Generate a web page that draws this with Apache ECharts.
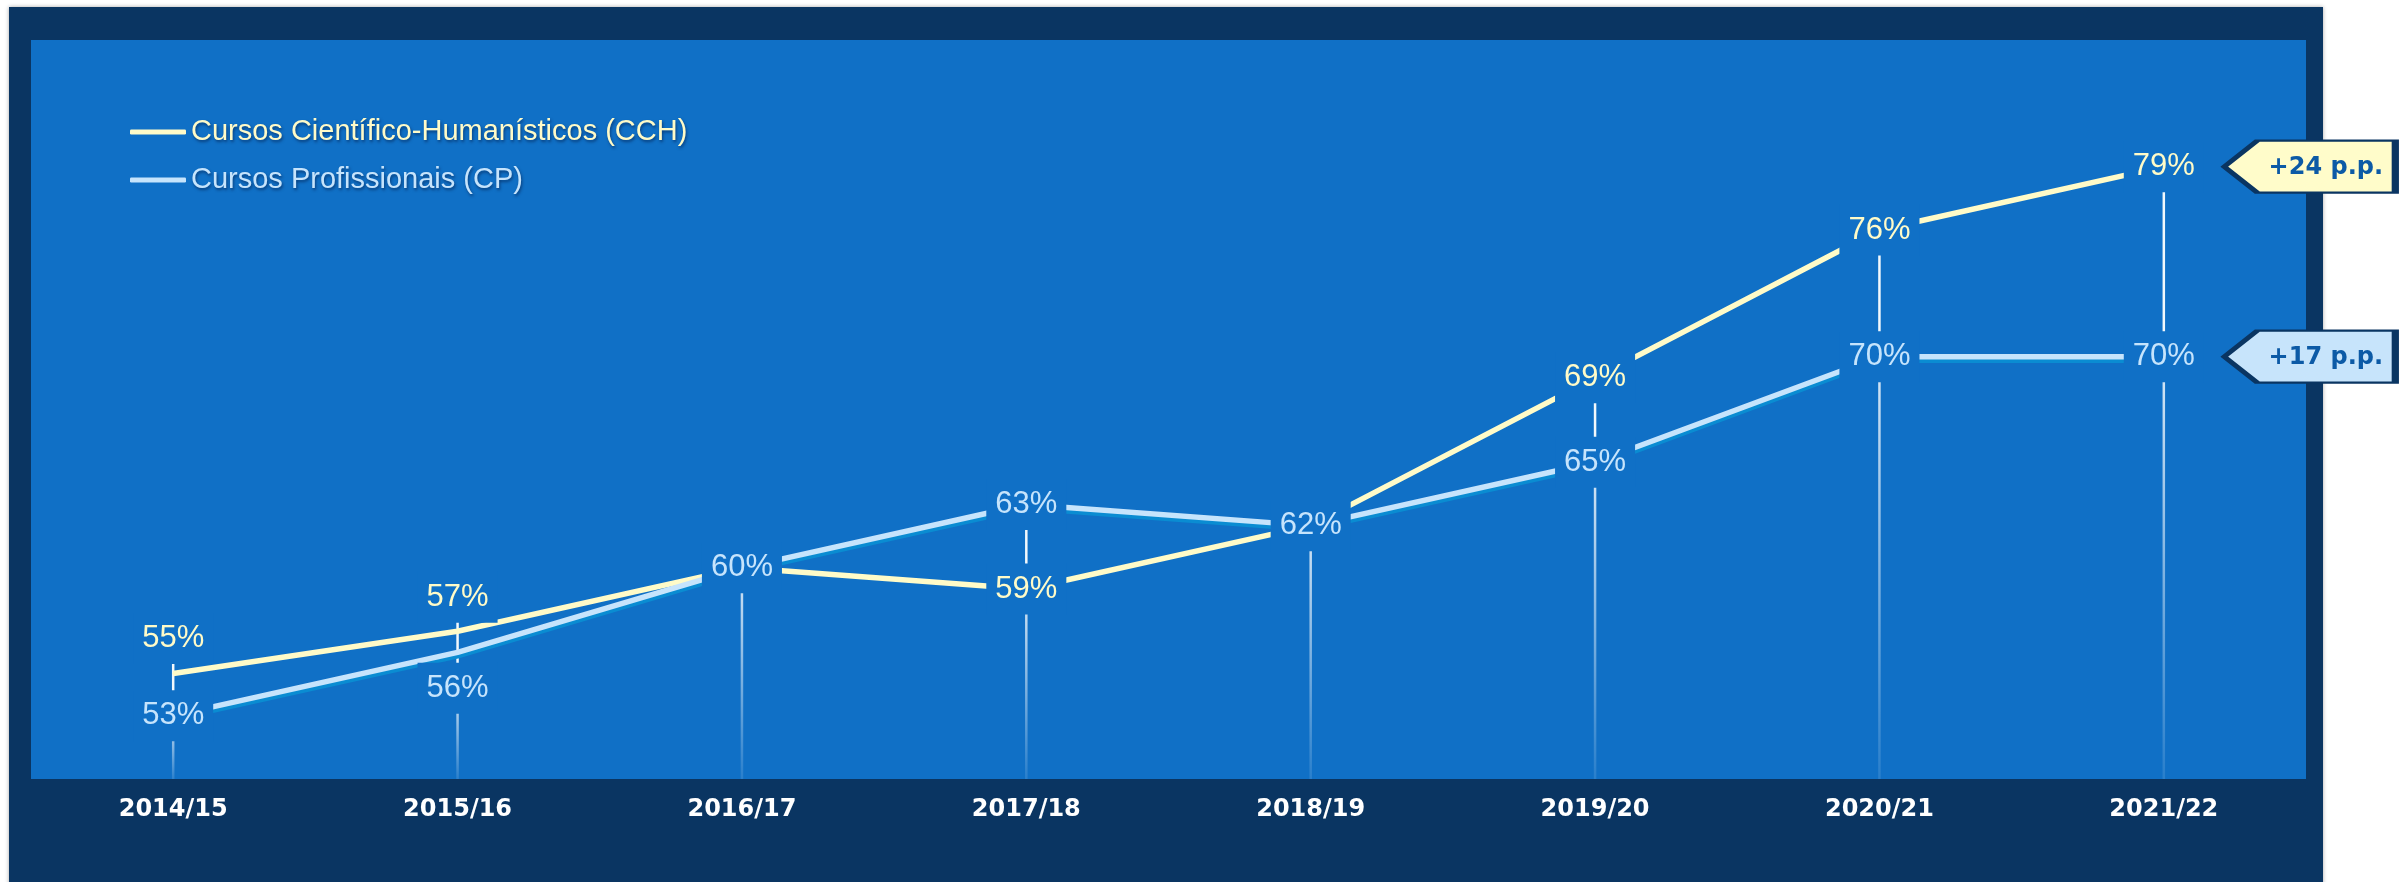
<!DOCTYPE html>
<html>
<head>
<meta charset="utf-8">
<script src="https://cdn.jsdelivr.net/npm/echarts@6/dist/echarts.min.js"></script>
<style>
  html, body { margin: 0; padding: 0; background: #ffffff; }
  #chart { width: 2400px; height: 882px; }
</style>
</head>
<body>
<div id="chart"></div>
<script>
// ---- data ----
const categories = ['2014/15', '2015/16', '2016/17', '2017/18', '2018/19', '2019/20', '2020/21', '2021/22'];
const cchName = 'Cursos Científico-Humanísticos (CCH)';
const cpName = 'Cursos Profissionais (CP)';
const cchValues = [55, 57, 60, 59, 62, 69, 76, 79];
const cpValues = [53, 56, 60, 63, 62, 65, 70, 70];

// ---- style ----
const COL_PANEL = '#1070c6';
const COL_DARK = '#0a3562';
const COL_CCH = '#fffbc8';
const COL_CP = '#c6e4fc';
const COL_CP_SHADOW = '#0a8cd2';
const LABEL_FONT = 'Liberation Sans, Arial, sans-serif';

// label vertical shifts (pixels) where the two labels would collide
const cchLabelDy = categories.map((c, i) => (i === 0 ? -35 : i === 1 ? -34 : 0));
const cpLabelDy = categories.map((c, i) => (i === 1 ? 36 : 0));

function labelItems(values, dys, showFn) {
  return values.map((v, i) => ({
    value: v,
    label: { show: showFn(i), offset: [0, dys[i]] }
  }));
}

const baseLabel = {
  show: true,
  position: 'inside',
  formatter: '{c}%',
  fontFamily: LABEL_FONT,
  fontSize: 31,
  backgroundColor: COL_PANEL,
  padding: [10, 9]
};

const first = 0, last = categories.length - 1;

const tagSymbol = 'path://M0,26 L33,0 L171,0 L171,52 L33,52 Z';
const tagLabel = {
  show: true, position: 'inside', offset: [16, 1],
  formatter: p => '+' + p.value + ' p.p.',
  color: '#0c5aa6', fontFamily: 'DejaVu Sans, sans-serif',
  fontWeight: 'bold', fontSize: 24
};

const chart = echarts.init(document.getElementById('chart'), null, { renderer: 'canvas' });

const option = {
  animation: false,
  backgroundColor: '#ffffff',
  graphic: [
    {
      type: 'rect', z: -10, silent: true,
      shape: { x: 9, y: 7, width: 2314, height: 880 },
      style: { fill: COL_DARK, shadowBlur: 4, shadowColor: 'rgba(0,0,0,0.35)' }
    }
  ],
  grid: {
    left: 31, right: 94, top: 40, bottom: 103,
    show: true, backgroundColor: COL_PANEL, borderWidth: 0
  },
  legend: {
    orient: 'vertical',
    left: 125, top: 110,
    itemWidth: 56, itemHeight: 5,
    itemGap: 14,
    icon: 'roundRect',
    data: [
      { name: cchName, textStyle: { color: COL_CCH } },
      { name: cpName, textStyle: { color: COL_CP } }
    ],
    textStyle: {
      fontFamily: LABEL_FONT, fontSize: 29, lineHeight: 34,
      textShadowColor: 'rgba(0,20,60,0.55)', textShadowBlur: 3,
      textShadowOffsetX: 1, textShadowOffsetY: 2
    }
  },
  xAxis: {
    type: 'category',
    data: categories,
    axisLine: { show: false },
    axisTick: { show: false },
    splitLine: { show: false },
    axisLabel: {
      color: '#ffffff',
      fontFamily: 'DejaVu Sans, sans-serif',
      fontWeight: 'bold',
      fontSize: 24,
      margin: 19
    }
  },
  yAxis: {
    type: 'value', min: 50, max: 85, show: false,
    splitLine: { show: false }
  },
  series: [
    {
      type: 'custom',
      name: 'drop',
      z: 1,
      silent: true,
      encode: { x: 0, y: [1, 2] },
      data: categories.map((c, i) => [i, Math.max(cchValues[i], cpValues[i]), Math.min(cchValues[i], cpValues[i])]),
      renderItem: function (params, api) {
        const i = api.value(0);
        const hi = api.value(1), lo = api.value(2);
        const pHi = api.coord([i, hi]);
        const pLo = api.coord([i, lo]);
        let hiDy, loDy;
        if (cchValues[i] > cpValues[i]) { hiDy = cchLabelDy[i]; loDy = cpLabelDy[i]; }
        else if (cchValues[i] < cpValues[i]) { hiDy = cpLabelDy[i]; loDy = cchLabelDy[i]; }
        else { hiDy = cpLabelDy[i]; loDy = cpLabelDy[i]; }
        const x = pHi[0];
        const yTop = pHi[1] + hiDy;
        const yMid = pLo[1] + loDy;
        const yBot = params.coordSys.y + params.coordSys.height;
        return {
          type: 'group',
          children: [
            {
              type: 'line',
              shape: { x1: x, y1: yTop, x2: x, y2: yMid },
              style: { stroke: 'rgba(255,255,255,0.95)', lineWidth: 2.5 }
            },
            {
              type: 'line',
              shape: { x1: x, y1: yMid, x2: x, y2: yBot },
              style: {
                lineWidth: 2.5,
                stroke: new echarts.graphic.LinearGradient(0, 0, 0, 1, [
                  { offset: 0, color: 'rgba(255,255,255,0.85)' },
                  { offset: 1, color: 'rgba(255,255,255,0.1)' }
                ])
              }
            }
          ]
        };
      }
    },
    {
      type: 'line',
      name: cchName,
      z: 2,
      data: labelItems(cchValues, cchLabelDy, i => cchValues[i] !== cpValues[i]),
      symbol: 'circle', symbolSize: 2,
      itemStyle: { color: COL_CCH },
      lineStyle: { color: COL_CCH, width: 5.5 },
      label: Object.assign({}, baseLabel, { color: COL_CCH }),
      markPoint: {
        symbol: tagSymbol,
        symbolSize: [171, 52],
        symbolOffset: [146, 0],
        itemStyle: { color: '#fffcca', borderColor: COL_DARK, borderWidth: 4 },
        label: tagLabel,
        data: [{ coord: [last, cchValues[last]], value: cchValues[last] - cchValues[first] }]
      }
    },
    {
      type: 'line',
      name: cpName,
      z: 2,
      data: labelItems(cpValues, cpLabelDy, i => true),
      symbol: 'circle', symbolSize: 2,
      itemStyle: { color: COL_CP },
      lineStyle: {
        color: COL_CP, width: 5.5,
        shadowColor: COL_CP_SHADOW, shadowBlur: 0, shadowOffsetY: 3.5
      },
      label: Object.assign({}, baseLabel, { color: COL_CP }),
      markPoint: {
        symbol: tagSymbol,
        symbolSize: [171, 52],
        symbolOffset: [146, 0],
        itemStyle: { color: '#c7e4fb', borderColor: COL_DARK, borderWidth: 4 },
        label: tagLabel,
        data: [{ coord: [last, cpValues[last]], value: cpValues[last] - cpValues[first] }]
      }
    }
  ]
};

chart.setOption(option);
</script>
</body>
</html>
